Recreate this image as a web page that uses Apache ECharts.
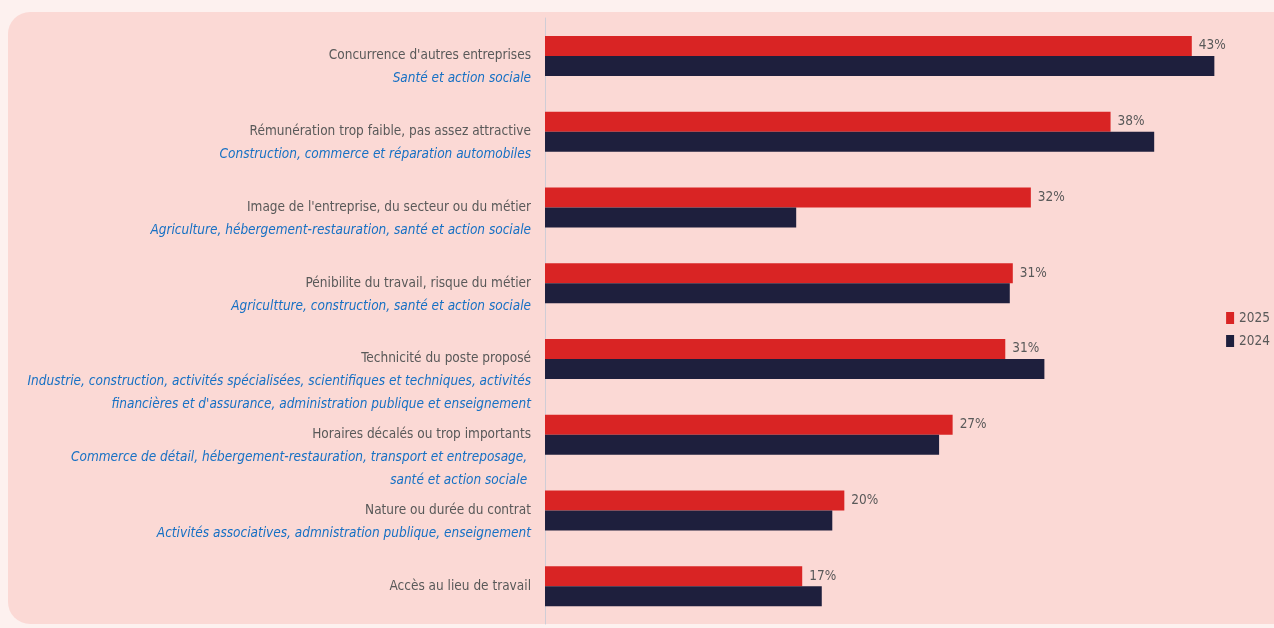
<!DOCTYPE html>
<html><head><meta charset="utf-8">
<script src="https://cdn.jsdelivr.net/npm/echarts@6/dist/echarts.min.js"></script>
<style>html,body{margin:0;padding:0;background:#fdf1ef;}#c{width:1274px;height:628px;}</style>
</head><body><div id="c"></div>
<script>
const mainLabels = [
  "Concurrence d'autres entreprises",
  "Rémunération trop faible, pas assez attractive",
  "Image de l'entreprise, du secteur ou du métier",
  "Pénibilite du travail, risque du métier",
  "Technicité du poste proposé",
  "Horaires décalés ou trop importants",
  "Nature ou durée du contrat",
  "Accès au lieu de travail"
];
const subLabels = [
  ["Santé et action sociale"],
  ["Construction, commerce et réparation automobiles"],
  ["Agriculture, hébergement-restauration, santé et action sociale"],
  ["Agricultture, construction, santé et action sociale"],
  ["Industrie, construction, activités spécialisées, scientifiques et techniques, activités", "financières et d'assurance, administration publique et enseignement"],
  ["Commerce de détail, hébergement-restauration, transport et entreposage, ", "santé et action sociale "],
  ["Activités associatives, admnistration publique, enseignement"],
  []
];
const series2025 = [43.0, 37.6, 32.3, 31.1, 30.6, 27.1, 19.9, 17.1];
const series2024 = [44.5, 40.5, 16.7, 30.9, 33.2, 26.2, 19.1, 18.4];
const seriesNames = ["2025", "2024"];

const FONT = "'DejaVu Sans Condensed','Liberation Sans Narrow',sans-serif";
const cats = mainLabels.map((m, i) => i + "");
const chart = echarts.init(document.getElementById('c'));
chart.setOption({
  backgroundColor: '#fdf1ef',
  graphic: [{
    type: 'rect', z: -10, silent: true,
    shape: { x: 8, y: 12, width: 1320, height: 612, r: 22 },
    style: { fill: '#fbd9d5' }
  }],
  textStyle: { fontFamily: FONT },
  legend: {
    orient: 'vertical', right: 4, top: 311, padding: 0,
    icon: 'rect', itemWidth: 8, itemHeight: 12, itemGap: 9,
    textStyle: { color: '#595959', fontSize: 13.5, fontFamily: FONT },
    data: seriesNames
  },
  grid: { left: 545, right: 7, top: 18, bottom: 4, containLabel: false, outerBoundsMode: 'none' },
  xAxis: { type: 'value', min: 0, max: 48, show: false },
  yAxis: {
    type: 'category', inverse: true, data: cats,
    axisLine: { show: true, lineStyle: { color: '#cfcdd6', width: 1 } },
    axisTick: { show: false },
    axisLabel: {
      margin: 14,
      align: 'right',
      verticalAlign: 'middle',
      formatter: function (v) {
        const i = +v;
        const subs = subLabels[i];
        const lines = [];
        for (let k = 0; k < subs.length; k++) lines.push('{e| }');
        lines.push('{m|' + mainLabels[i] + '}');
        subs.forEach(s => lines.push('{s|' + s + '}'));
        return lines.join('\n');
      },
      rich: {
        e: { fontSize: 13.5, lineHeight: 23 },
        m: { fontSize: 13.5, lineHeight: 23, color: '#595959', fontFamily: FONT },
        s: { fontSize: 13.5, lineHeight: 23, color: '#1670c4', fontStyle: 'italic', fontFamily: FONT }
      }
    }
  },
  series: [
    {
      name: seriesNames[0], type: 'bar', data: series2025, barWidth: 20, barGap: '0%',
      itemStyle: { color: '#d92424' },
      label: {
        show: true, position: 'right', distance: 7, color: '#595959', fontSize: 13.5,
        fontFamily: FONT,
        formatter: p => Math.round(p.value) + '%'
      }
    },
    {
      name: seriesNames[1], type: 'bar', data: series2024, barWidth: 20,
      itemStyle: { color: '#1e1f3d' }
    }
  ]
});
</script></body></html>
